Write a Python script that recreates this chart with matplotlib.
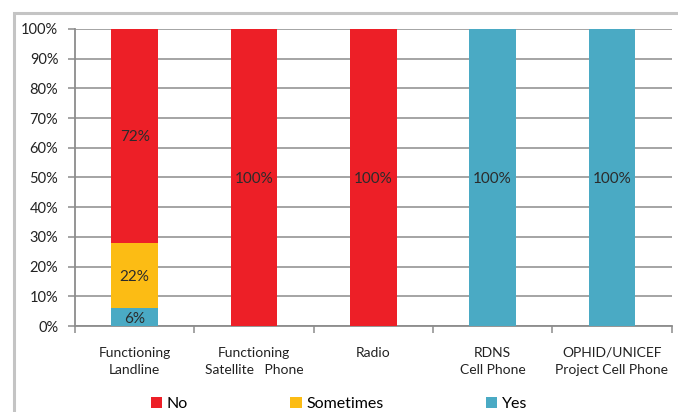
import numpy as np
import matplotlib.pyplot as plt
from matplotlib.patches import Rectangle

plt.rcParams['font.family'] = ['Lato', 'DejaVu Sans']

# survey answers per communication channel (percent)
categories = ['Functioning\nLandline', 'Functioning\nSatellite   Phone', 'Radio',
              'RDNS\nCell Phone', 'OPHID/UNICEF\nProject Cell Phone']
yes = [6, 0, 0, 100, 100]
sometimes = [22, 0, 0, 0, 0]
no = [72, 100, 100, 0, 0]

colors = {'No': '#ED1F27', 'Sometimes': '#FCBC14', 'Yes': '#4AAAC4'}
grid_gray = '#8C8C8C'

fig = plt.figure(figsize=(6.78, 4.12), dpi=100)
ax = fig.add_axes([0.1106, 0.2087, 0.880, 0.721])

# light outer frame
fig.patches.append(Rectangle((14 / 678, -0.1), 1.2, 0.1 + (412 - 13) / 412,
                             transform=fig.transFigure, fill=False,
                             edgecolor='#C4C4C4', linewidth=2.2))

x = np.arange(len(categories))
w = 0.39
yes = np.array(yes)
sometimes = np.array(sometimes)
no = np.array(no)

b_yes = ax.bar(x, yes, w, color=colors['Yes'], label='Yes', zorder=3)
b_some = ax.bar(x, sometimes, w, bottom=yes, color=colors['Sometimes'], label='Sometimes', zorder=3)
b_no = ax.bar(x, no, w, bottom=yes + sometimes, color=colors['No'], label='No', zorder=3)

# value labels inside segments
for vals, bottoms in [(yes, np.zeros(5)), (sometimes, yes), (no, yes + sometimes)]:
    for xi, v, b in zip(x, vals, bottoms):
        if v > 0:
            ax.text(xi, b + v / 2, f'{v}%', ha='center', va='center_baseline',
                    fontsize=11, color='#2b2b2b', zorder=4)

ax.set_xlim(-0.5, len(categories) - 0.5)
ax.set_ylim(0, 100)
ax.set_yticks(np.arange(0, 101, 10))
ax.set_yticklabels([f'{v}%' for v in range(0, 101, 10)], fontsize=10.5, color='#222222')
ax.yaxis.grid(True, color=grid_gray, linewidth=1.1, zorder=0)
ax.set_axisbelow(True)

ax.set_xticks(x)
ax.set_xticklabels(categories, fontsize=10, color='#222222', linespacing=1.5)
ax.tick_params(axis='x', length=0, pad=15)
ax.set_xticks(np.arange(-0.5, len(categories), 1), minor=True)
ax.tick_params(axis='x', which='minor', length=5, color=grid_gray, width=1.1)
ax.tick_params(axis='y', length=5, color=grid_gray, width=1.1, pad=7)

for s in ['top', 'right']:
    ax.spines[s].set_visible(False)
for s in ['left', 'bottom']:
    ax.spines[s].set_color(grid_gray)
    ax.spines[s].set_linewidth(1.3)

fig.legend(handles=[b_no, b_some, b_yes], labels=['No', 'Sometimes', 'Yes'],
           loc='center', bbox_to_anchor=(0.5, 0.019), ncol=3, frameon=False,
           fontsize=11.5, handlelength=0.7, handleheight=0.7, handletextpad=0.3,
           columnspacing=6.4)

fig.savefig('out.png', dpi=100)
